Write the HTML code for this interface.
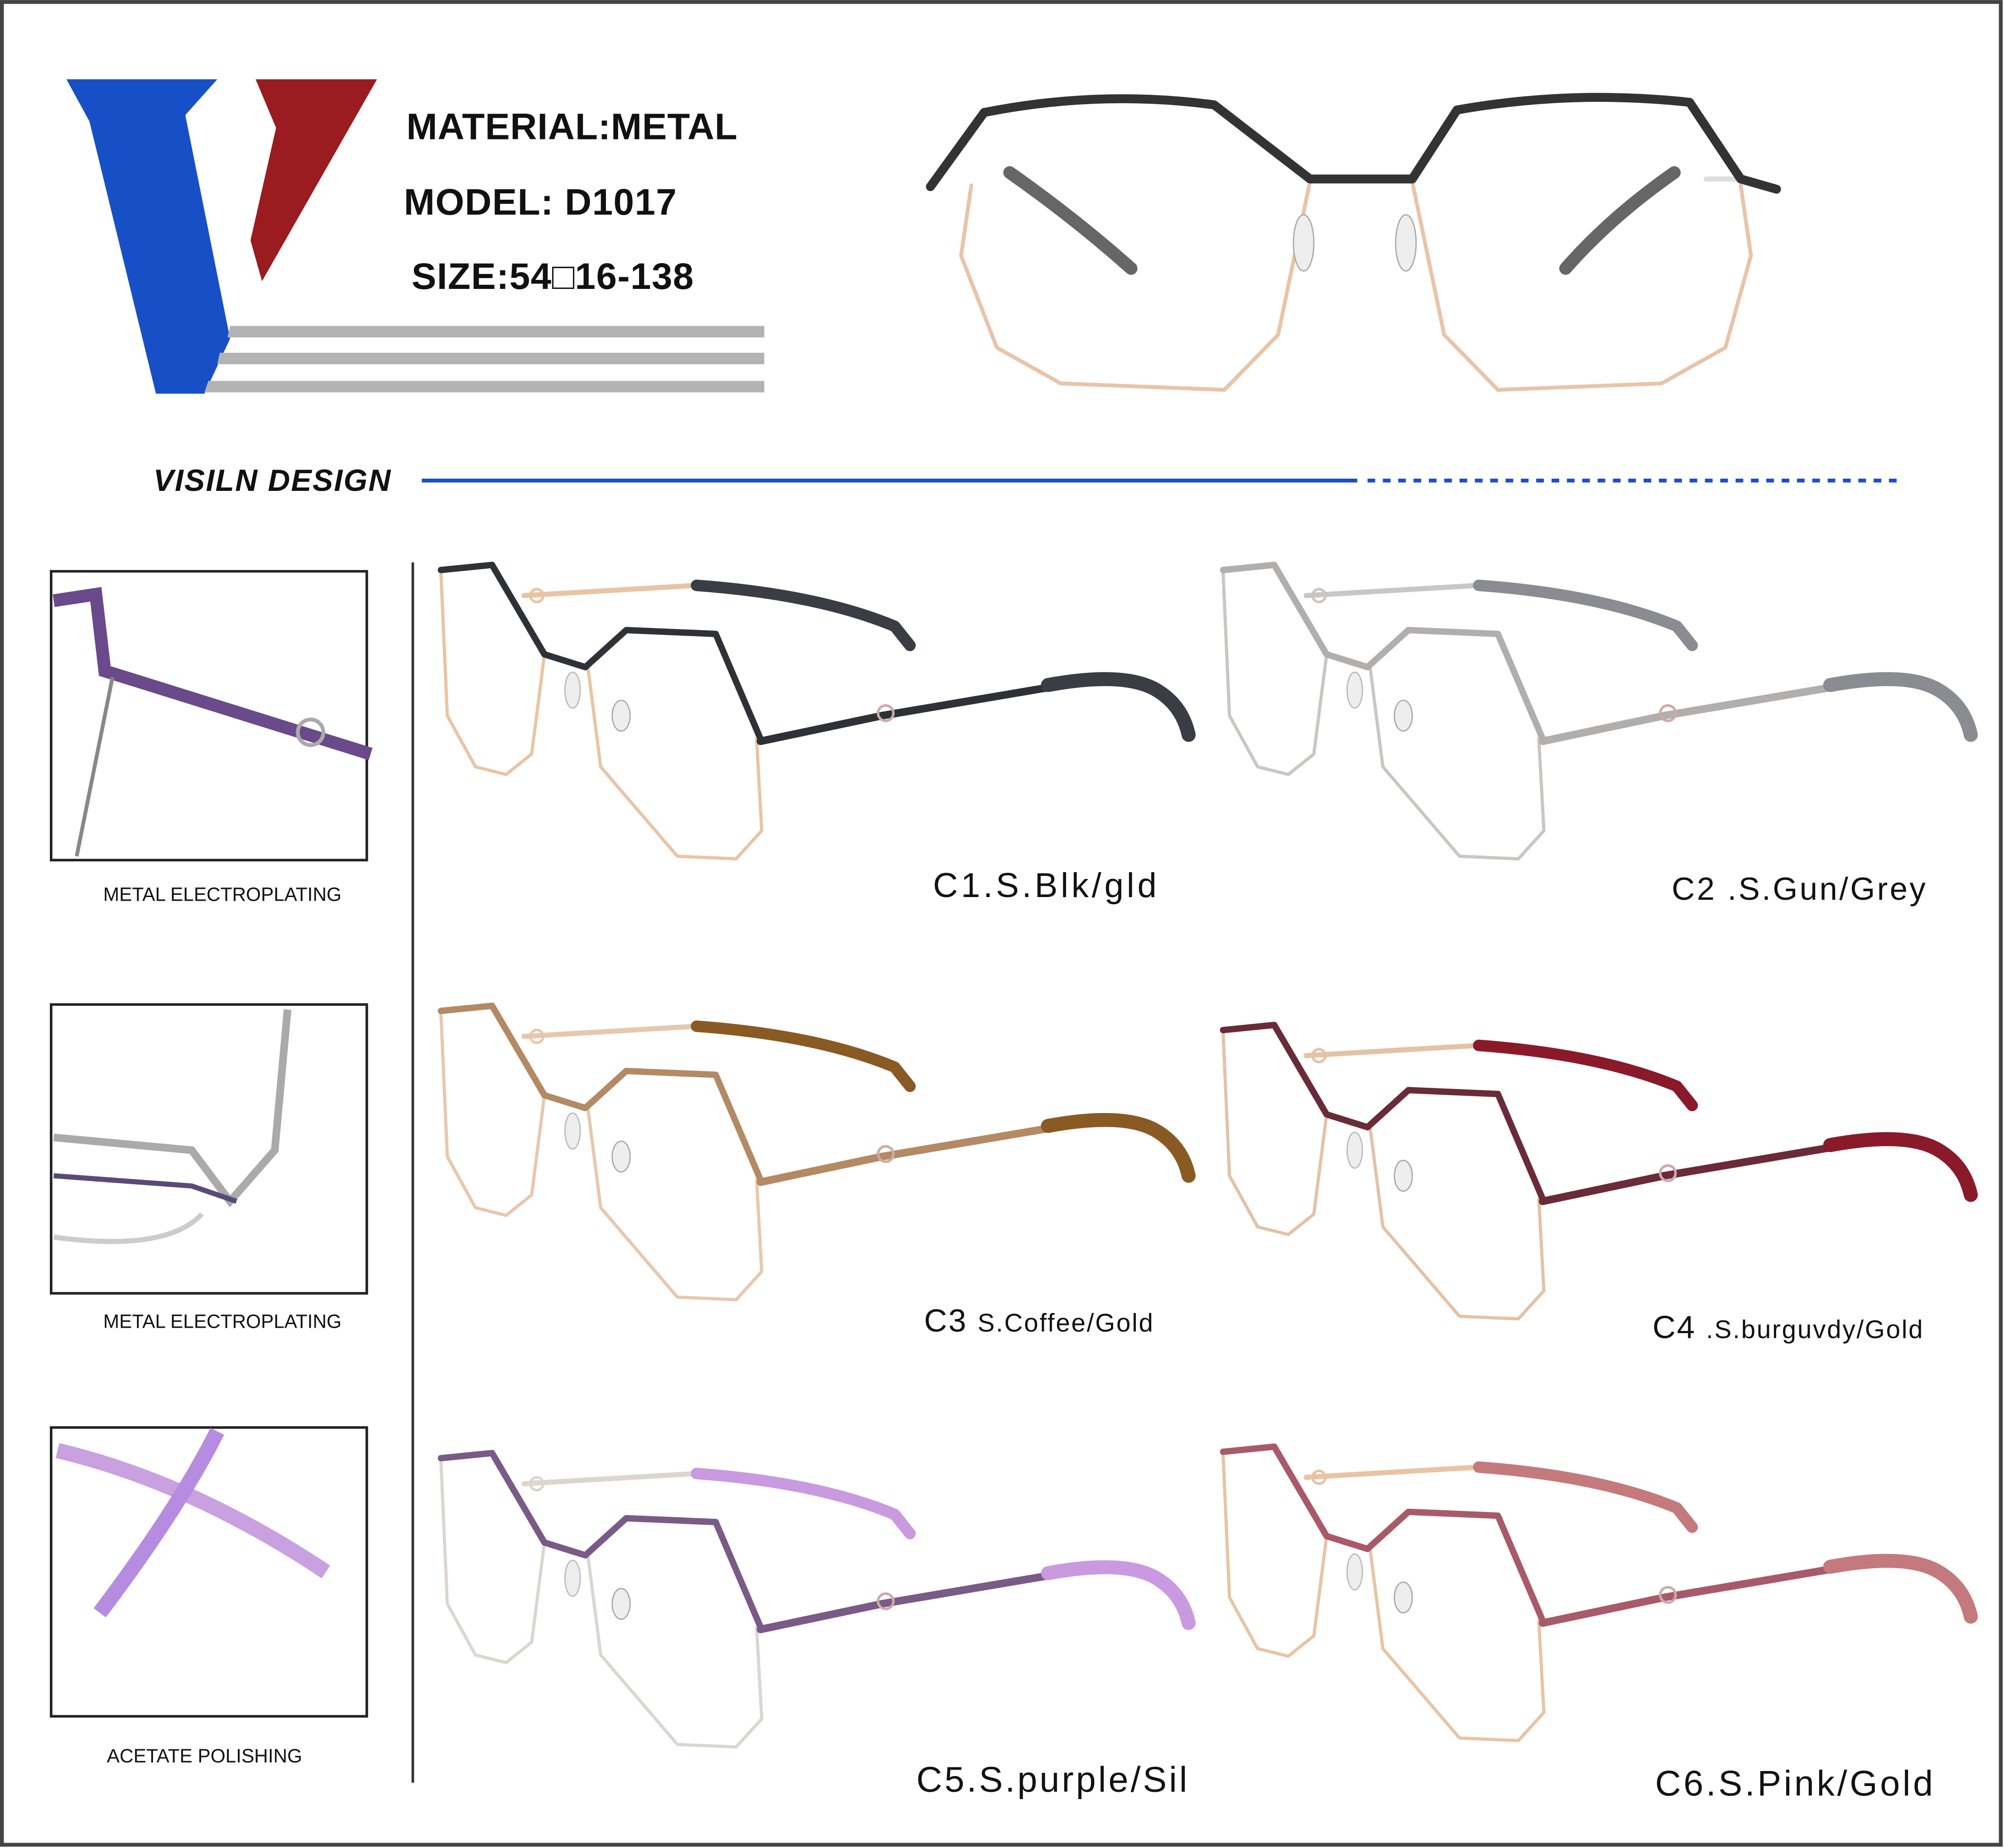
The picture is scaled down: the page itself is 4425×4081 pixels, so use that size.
<!DOCTYPE html>
<html><head><meta charset="utf-8"><style>
html,body{margin:0;padding:0;background:#fff}
svg{display:block}
text{font-family:"Liberation Sans",sans-serif}
</style></head><body>
<svg width="4425" height="4081" viewBox="0 0 1568 1446" xmlns="http://www.w3.org/2000/svg">
<defs>
<g id="gl" fill="none" stroke-linecap="round" stroke-linejoin="round">
  <path d="M410,466 L545,458" stroke="var(--rim)" stroke-width="4"/>
  <path d="M545,458 Q640,465 700,490 L712,505" stroke="var(--tip)" stroke-width="9"/>
  <circle cx="420" cy="466" r="5" stroke="var(--rim)" stroke-width="2"/>
  <path d="M345,448 L350,560 L372,600 L396,606 L416,590 L426,512" stroke="var(--rim)" stroke-width="2.5"/>
  <path d="M460,522 L470,600 L530,670 L576,672 L596,650 L592,578" stroke="var(--rim)" stroke-width="2.5"/>
  <path d="M345,446 L385,442 L426,512 L458,522 L490,493 L560,496 L595,578" stroke="var(--top)" stroke-width="5"/>
  <path d="M595,580 L690,560 L820,538" stroke="var(--top)" stroke-width="6"/>
  <path d="M820,536 Q880,525 905,540 Q925,552 930,575" stroke="var(--tip)" stroke-width="11"/>
  <circle cx="693" cy="558" r="6" stroke="#caa" stroke-width="2"/>
  <ellipse cx="448" cy="540" rx="6" ry="14" fill="#eee" stroke="#bbb"/>
  <ellipse cx="486" cy="560" rx="7" ry="12" fill="#eee" stroke="#aaa"/>
</g>
</defs>
<rect x="1.5" y="1.5" width="1564" height="1442" fill="#fff" stroke="#444" stroke-width="3"/>
<polygon points="52,62 170,62 145,90 180,265 160,308 122,308 70,95" fill="#174fc7"/>
<polygon points="200,62 295,62 205,220 196,188 216,100" fill="#9a1c20"/>
<polygon points="180,255 598,255 598,264 178,264" fill="#b3b3b3"/>
<polygon points="172,276 598,276 598,285 170,285" fill="#b3b3b3"/>
<polygon points="163,298 598,298 598,307 160,307" fill="#b3b3b3"/>
<text x="318" y="109" font-size="29" font-weight="bold" fill="#111" letter-spacing="0.3">MATERIAL:METAL</text>
<text x="316" y="168" font-size="29" font-weight="bold" fill="#111" letter-spacing="0.5">MODEL: D1017</text>
<text x="322" y="226" font-size="29" font-weight="bold" fill="#111" letter-spacing="0.5">SIZE:54□16-138</text>
<g fill="none" stroke-linecap="round" stroke-linejoin="round">
<path d="M790,135 Q840,170 885,210" stroke="#666" stroke-width="10"/>
<path d="M1310,135 Q1260,170 1225,210" stroke="#666" stroke-width="10"/>
<path d="M1335,140 L1362,140" stroke="#ddd" stroke-width="4"/>
<path d="M760,145 L752,200 L780,272 L830,300 L958,305 L1000,262 L1025,142" stroke="#e8c4a8" stroke-width="3"/>
<path d="M1105,142 L1130,262 L1172,305 L1300,300 L1350,272 L1370,200 L1362,145" stroke="#e8c4a8" stroke-width="3"/>
<path d="M728,146 L770,88 Q860,70 950,82 L1025,140 L1105,140 L1140,86 Q1230,70 1322,80 L1362,140 L1390,148" stroke="#333" stroke-width="7"/>
<ellipse cx="1020" cy="190" rx="8" ry="22" fill="#eee" stroke="#aaa"/>
<ellipse cx="1100" cy="190" rx="8" ry="22" fill="#eee" stroke="#aaa"/>
</g>
<text x="120" y="384" font-size="24" font-weight="bold" font-style="italic" fill="#111" letter-spacing="0.8">VISILN DESIGN</text>
<line x1="330" y1="376" x2="1062" y2="376" stroke="#1d4fbf" stroke-width="3"/>
<line x1="1070" y1="376" x2="1490" y2="376" stroke="#1d4fbf" stroke-width="3" stroke-dasharray="6,6"/>
<line x1="323" y1="440" x2="323" y2="1395" stroke="#333" stroke-width="2"/>
<rect x="40" y="447" width="247" height="226" fill="#fff" stroke="#222" stroke-width="2"/>
<path d="M42,470 L75,465 L82,525 L290,590" fill="none" stroke="#6a4a8a" stroke-width="10"/>
<path d="M88,530 L60,670" stroke="#888" stroke-width="3" fill="none"/>
<circle cx="243" cy="573" r="10" fill="none" stroke="#aaa" stroke-width="3"/>
<text x="174" y="705" font-size="15" text-anchor="middle" fill="#111">METAL ELECTROPLATING</text>
<rect x="40" y="786" width="247" height="226" fill="#fff" stroke="#222" stroke-width="2"/>
<path d="M42,890 L150,900 L180,940 L215,900 L225,790" fill="none" stroke="#aaa" stroke-width="6"/>
<path d="M42,920 L150,928 L185,940" fill="none" stroke="#5a4a7a" stroke-width="4"/>
<path d="M42,968 Q130,980 158,950" fill="none" stroke="#ccc" stroke-width="4"/>
<text x="174" y="1039" font-size="15" text-anchor="middle" fill="#111">METAL ELECTROPLATING</text>
<rect x="40" y="1117" width="247" height="226" fill="#fff" stroke="#222" stroke-width="2"/>
<path d="M45,1135 Q150,1160 255,1230" fill="none" stroke="#c9a0e0" stroke-width="12"/>
<path d="M170,1120 Q140,1180 78,1262" fill="none" stroke="#b68ce0" stroke-width="12"/>
<text x="160" y="1379" font-size="15" text-anchor="middle" fill="#111">ACETATE POLISHING</text>
<use href="#gl" style="--rim:#e9c4a4;--top:#2e3236;--tip:#3a3e44"/>
<use href="#gl" transform="translate(612,0)" style="--rim:#c9c6c4;--top:#b1aeac;--tip:#8a8c92"/>
<use href="#gl" transform="translate(0,345)" style="--rim:#e7c8ae;--top:#b38a64;--tip:#8a5a24"/>
<use href="#gl" transform="translate(612,360)" style="--rim:#e4c2a6;--top:#6a2a3a;--tip:#8a1a2a"/>
<use href="#gl" transform="translate(0,695)" style="--rim:#dcd6d0;--top:#7a5a86;--tip:#c99ae0"/>
<use href="#gl" transform="translate(612,690)" style="--rim:#e8c4a4;--top:#a85a6a;--tip:#c47a7c"/>
<text x="730" y="702" font-size="27" fill="#111" letter-spacing="2.4">C1.S.Blk/gld</text>
<text x="1308" y="704" font-size="25" fill="#111" letter-spacing="1.6">C2 .S.Gun/Grey</text>
<text x="723" y="1042" font-size="25" fill="#111" letter-spacing="1">C3 <tspan font-size="20">S.Coffee/Gold</tspan></text>
<text x="1293" y="1047" font-size="25" fill="#111" letter-spacing="1">C4 <tspan font-size="20">.S.burguvdy/Gold</tspan></text>
<text x="717" y="1402" font-size="28" fill="#111" letter-spacing="1.8">C5.S.purple/Sil</text>
<text x="1295" y="1405" font-size="28" fill="#111" letter-spacing="2">C6.S.Pink/Gold</text>
</svg>
</body></html>
